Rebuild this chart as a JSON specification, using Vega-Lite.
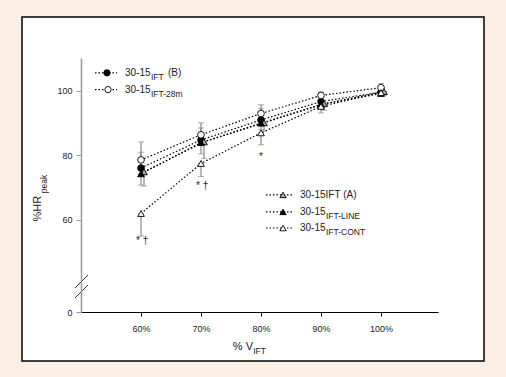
{
  "$schema": "https://vega.github.io/schema/vega-lite/v6.json",
  "width": 462,
  "height": 344,
  "autosize": {"type": "none"},
  "padding": {"left": 22, "top": 17, "right": 22, "bottom": 16},
  "background": "#fdeee4",
  "config": {
    "view": {"fill": "white", "stroke": "black", "strokeWidth": 1.5},
    "font": "Liberation Sans"
  },
  "datasets": {
    "pts": [
      {"s": "B", "x": 60, "y": 76.1, "lo": 76.1, "hi": 81.0},
      {"s": "B", "x": 70, "y": 84.8, "lo": 84.8, "hi": 88.5},
      {"s": "B", "x": 80, "y": 91.0, "lo": 91.0, "hi": 94.5},
      {"s": "B", "x": 90, "y": 96.7, "lo": 96.7, "hi": 98.5},
      {"s": "B", "x": 100, "y": 99.6, "lo": 99.6, "hi": 100.8},
      {"s": "28m", "x": 60, "y": 78.6, "lo": 78.6, "hi": 84.2},
      {"s": "28m", "x": 70, "y": 86.4, "lo": 86.4, "hi": 90.1},
      {"s": "28m", "x": 80, "y": 93.0, "lo": 93.0, "hi": 95.7},
      {"s": "28m", "x": 90, "y": 98.6, "lo": 98.6, "hi": 99.7},
      {"s": "28m", "x": 100, "y": 101.0, "lo": 101.0, "hi": 102.3},
      {"s": "A", "x": 60.5, "y": 74.9, "lo": 70.5, "hi": 74.9},
      {"s": "A", "x": 70.5, "y": 84.2, "lo": 79.0, "hi": 84.2},
      {"s": "A", "x": 80.5, "y": 90.1, "lo": 87.5, "hi": 90.1},
      {"s": "A", "x": 90.5, "y": 96.0, "lo": 94.0, "hi": 96.0},
      {"s": "A", "x": 100.5, "y": 99.8, "lo": 98.5, "hi": 99.8},
      {"s": "LINE", "x": 60, "y": 74.3, "lo": 70.8, "hi": 74.3},
      {"s": "LINE", "x": 70, "y": 84.0, "lo": 80.5, "hi": 84.0},
      {"s": "LINE", "x": 80, "y": 90.0, "lo": 88.0, "hi": 90.0},
      {"s": "LINE", "x": 90, "y": 95.8, "lo": 94.3, "hi": 95.8},
      {"s": "LINE", "x": 100, "y": 99.2, "lo": 98.4, "hi": 99.2},
      {"s": "CONT", "x": 60, "y": 62.0, "lo": 55.0, "hi": 62.0},
      {"s": "CONT", "x": 70, "y": 77.5, "lo": 73.5, "hi": 77.5},
      {"s": "CONT", "x": 80, "y": 87.0, "lo": 83.3, "hi": 87.0},
      {"s": "CONT", "x": 90, "y": 95.2, "lo": 93.2, "hi": 95.2},
      {"s": "CONT", "x": 100, "y": 99.5, "lo": 98.5, "hi": 99.5}
    ],
    "legend": [
      {"s": "B", "x1": 52.33, "x2": 56, "xm": 54.33, "xt": 57.33, "y": 105.6, "main": "30-15", "sub": "IFT", "tail": "(B)"},
      {"s": "28m", "x1": 52.33, "x2": 56, "xm": 54.5, "xt": 57.33, "y": 100.4, "main": "30-15", "sub": "IFT-28m", "tail": ""},
      {"s": "A", "x1": 80.83, "x2": 85.33, "xm": 83.67, "xt": 86.5, "y": 67.75, "main": "30-15IFT (A)", "sub": "", "tail": ""},
      {"s": "LINE", "x1": 80.83, "x2": 85.33, "xm": 83.67, "xt": 86.5, "y": 62.5, "main": "30-15", "sub": "IFT-LINE", "tail": ""},
      {"s": "CONT", "x1": 80.83, "x2": 85.33, "xm": 83.67, "xt": 86.5, "y": 57.5, "main": "30-15", "sub": "IFT-CONT", "tail": ""}
    ],
    "notes": [
      {"x": 60.2, "y": 53.5, "t": "* †"},
      {"x": 70.2, "y": 70.5, "t": "* †"},
      {"x": 80.0, "y": 79.6, "t": "*"}
    ],
    "breaks": [
      {"x": 49, "y": 38.9, "x2": 51.17, "y2": 42.95},
      {"x": 49, "y": 35.81, "x2": 51.17, "y2": 39.85}
    ],
    "titles": [
      {"x": 75.3, "y": 20.6, "t": "% V", "k": "main"},
      {"x": 78.7, "y": 19.3, "t": "IFT", "k": "sub"}
    ],
    "ytitles": [
      {"x": 43.3, "y": 59.5, "t": "%HR", "k": "main"},
      {"x": 44.4, "y": 68.3, "t": "peak", "k": "sub"}
    ]
  },
  "layer": [
    {
      "data": {"name": "pts"},
      "mark": {"type": "line", "strokeDash": [1.5, 2], "strokeWidth": 1.2, "color": "black"},
      "encoding": {
        "x": {"field": "x", "type": "quantitative", "scale": {"domain": [50, 109.5], "range": [59, 416], "nice": false, "zero": false},
          "axis": {"values": [60, 70, 80, 90, 100], "labelExpr": "datum.value + '%'", "offset": -49, "title": null, "grid": false,
            "domainColor": "black", "tickColor": "black", "tickSize": 4, "labelColor": "#222", "labelFontSize": 9, "labelPadding": 8, "zindex": 1}},
        "y": {"field": "y", "type": "quantitative", "scale": {"domain": [31.47, 110.2], "range": [295, 41], "nice": false, "zero": false},
          "axis": {"values": [31.47, 60, 80, 100], "labelExpr": "datum.value < 40 ? '0' : datum.label", "offset": -59, "title": null, "grid": false,
            "domainColor": "#999", "domainWidth": 1.5, "tickColor": "#999", "tickSize": 5, "labelColor": "#222", "labelFontSize": 9, "labelPadding": 4, "zindex": 1}},
        "detail": {"field": "s"}
      }
    },
    {
      "data": {"name": "pts"},
      "mark": {"type": "errorbar", "ticks": {"size": 6, "color": "#888"}, "rule": {"color": "#888", "strokeWidth": 1.2}},
      "encoding": {
        "x": {"field": "x", "type": "quantitative"},
        "y": {"field": "lo", "type": "quantitative"},
        "y2": {"field": "hi"}
      }
    },
    {
      "data": {"name": "pts"},
      "mark": {"type": "point", "filled": true, "stroke": "black", "strokeWidth": 0.9, "size": 45, "opacity": 1},
      "encoding": {
        "x": {"field": "x", "type": "quantitative"},
        "y": {"field": "y", "type": "quantitative"},
        "shape": {"field": "s", "type": "nominal", "legend": null,
          "scale": {"domain": ["B", "28m", "A", "LINE", "CONT"], "range": ["circle", "circle", "triangle-up", "triangle-up", "triangle-up"]}},
        "fill": {"field": "s", "type": "nominal", "legend": null,
          "scale": {"domain": ["B", "28m", "A", "LINE", "CONT"], "range": ["black", "white", "#a8a8a8", "black", "white"]}}
      }
    },
    {
      "data": {"name": "legend"},
      "mark": {"type": "rule", "strokeDash": [1.5, 2], "strokeWidth": 1.2, "color": "black"},
      "encoding": {
        "x": {"field": "x1", "type": "quantitative"},
        "x2": {"field": "x2"},
        "y": {"field": "y", "type": "quantitative"}
      }
    },
    {
      "data": {"name": "legend"},
      "mark": {"type": "point", "filled": true, "stroke": "black", "strokeWidth": 0.9, "size": 40, "opacity": 1},
      "encoding": {
        "x": {"field": "xm", "type": "quantitative"},
        "y": {"field": "y", "type": "quantitative"},
        "shape": {"field": "s", "type": "nominal", "legend": null},
        "fill": {"field": "s", "type": "nominal", "legend": null}
      }
    },
    {
      "data": {"name": "legend"},
      "mark": {"type": "text", "align": "left", "baseline": "middle", "fontSize": 10, "color": "#222"},
      "encoding": {
        "x": {"field": "xt", "type": "quantitative"},
        "y": {"field": "y", "type": "quantitative"},
        "text": {"field": "main"}
      }
    },
    {
      "data": {"name": "legend"},
      "mark": {"type": "text", "align": "left", "baseline": "middle", "fontSize": 8.5, "dx": 26, "dy": 4, "color": "#222"},
      "encoding": {
        "x": {"field": "xt", "type": "quantitative"},
        "y": {"field": "y", "type": "quantitative"},
        "text": {"field": "sub"}
      }
    },
    {
      "data": {"name": "legend"},
      "mark": {"type": "text", "align": "left", "baseline": "middle", "fontSize": 10, "dx": 43, "color": "#222"},
      "encoding": {
        "x": {"field": "xt", "type": "quantitative"},
        "y": {"field": "y", "type": "quantitative"},
        "text": {"field": "tail"}
      }
    },
    {
      "data": {"name": "notes"},
      "mark": {"type": "text", "align": "center", "baseline": "middle", "fontSize": 10, "color": "#222"},
      "encoding": {
        "x": {"field": "x", "type": "quantitative"},
        "y": {"field": "y", "type": "quantitative"},
        "text": {"field": "t"}
      }
    },
    {
      "data": {"name": "breaks"},
      "mark": {"type": "rule", "color": "#333", "strokeWidth": 1},
      "encoding": {
        "x": {"field": "x", "type": "quantitative"},
        "y": {"field": "y", "type": "quantitative"},
        "x2": {"field": "x2"},
        "y2": {"field": "y2"}
      }
    },
    {
      "data": {"name": "titles"},
      "mark": {"type": "text", "align": "left", "baseline": "middle", "color": "#222"},
      "encoding": {
        "x": {"field": "x", "type": "quantitative"},
        "y": {"field": "y", "type": "quantitative"},
        "text": {"field": "t"},
        "size": {"field": "k", "type": "nominal", "legend": null, "scale": {"domain": ["main", "sub"], "range": [11, 8.5]}}
      }
    },
    {
      "data": {"name": "ytitles"},
      "mark": {"type": "text", "align": "left", "baseline": "alphabetic", "angle": 270, "color": "#222"},
      "encoding": {
        "x": {"field": "x", "type": "quantitative"},
        "y": {"field": "y", "type": "quantitative"},
        "text": {"field": "t"},
        "size": {"field": "k", "type": "nominal", "legend": null, "scale": {"domain": ["main", "sub"], "range": [11, 8.5]}}
      }
    }
  ],
  "resolve": {"scale": {"size": "independent"}}
}
